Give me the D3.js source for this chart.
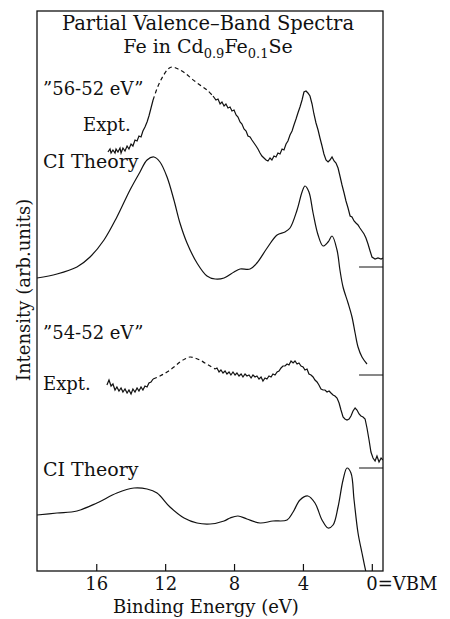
<!DOCTYPE html>
<html lang="en">
<head>
    <meta charset="UTF-8">
    <title>Partial Valence-Band Spectra</title>
    <script src="https://cdn.jsdelivr.net/npm/d3@7"></script>
    <style>
        body { margin: 0; background: #fff; }
        text { font-family: "DejaVu Serif", serif; fill: #111; }
    </style>
</head>
<body>
<script>
    // binding energy (eV) / intensity (arb. units, spectra stacked on one scale)
    const expt5652 = [
        [15.35, 83.8], [15.23, 84.4], [15.17, 83.6], [15.06, 84.2], [14.94, 83.6], [14.88, 84.4],
        [14.77, 83.8], [14.65, 84.6], [14.59, 83.6], [14.48, 84.6], [14.36, 84.0], [14.24, 85.0],
        [14.13, 84.4], [14.01, 85.4], [13.90, 85.0], [13.78, 86.2], [13.66, 86.0], [13.55, 87.0],
        [13.43, 86.8], [13.32, 88.0], [13.20, 88.8], [13.08, 89.8], [12.97, 91.0], [12.85, 92.6],
        [12.73, 94.2], [12.44, 97.0], [12.15, 99.0], [11.86, 100.4], [11.63, 100.8], [11.28, 100.4],
        [10.88, 99.6], [10.47, 98.4], [10.01, 97.2], [9.60, 96.2], [9.25, 95.0],
        [9.08, 94.2], [8.96, 94.4], [8.84, 93.4], [8.73, 93.8], [8.61, 93.0], [8.50, 93.4],
        [8.38, 92.6], [8.26, 92.8], [8.15, 92.0], [8.03, 92.2], [7.91, 91.2], [7.80, 90.8],
        [7.68, 89.8], [7.57, 89.4], [7.45, 88.4], [7.33, 88.0], [7.22, 87.0], [7.10, 86.8],
        [6.99, 86.2], [6.87, 85.6], [6.75, 85.0], [6.64, 84.4], [6.52, 83.6], [6.41, 83.0],
        [6.29, 82.6], [6.17, 82.2], [6.06, 82.0], [5.94, 82.6], [5.83, 82.2], [5.71, 83.0],
        [5.59, 82.8], [5.48, 83.6], [5.36, 83.4], [5.24, 84.4], [5.13, 84.2], [5.01, 85.4],
        [4.90, 86.0], [4.78, 87.2], [4.66, 88.0], [4.55, 89.2], [4.43, 90.4], [4.32, 91.6],
        [4.20, 92.8], [4.08, 94.2], [3.97, 95.8], [3.85, 96.0], [3.74, 95.6], [3.62, 95.0],
        [3.50, 93.4], [3.39, 91.4], [3.27, 89.6], [3.15, 88.2], [3.04, 86.6], [2.92, 85.0],
        [2.81, 83.4], [2.69, 82.2], [2.57, 81.8], [2.46, 82.2], [2.34, 82.8], [2.22, 82.0],
        [2.11, 81.6], [1.99, 80.6], [1.88, 79.0], [1.76, 77.2], [1.64, 75.6], [1.53, 74.0],
        [1.41, 72.6], [1.29, 71.0], [1.18, 70.8], [1.06, 70.0], [0.95, 69.6], [0.83, 69.2],
        [0.72, 68.6], [0.60, 68.0], [0.48, 67.4], [0.37, 66.6], [0.25, 65.4], [0.13, 64.0],
        [0.02, 62.8], [-0.16, 62.4], [-0.33, 62.6], [-0.51, 62.4], [-0.62, 62.6]
    ]
    const dashed5652 = [12.73, 9.25]   // energy range drawn dashed

    const theory5652 = [
        [19.47, 58.6], [18.31, 59.4], [17.15, 60.8], [16.39, 62.8], [15.58, 66.2], [14.83, 70.8],
        [14.07, 76.2], [13.49, 79.8], [13.08, 82.2], [12.68, 82.8], [12.33, 81.8], [11.92, 78.8],
        [11.52, 74.2], [11.17, 69.6], [10.76, 65.6], [10.18, 61.6], [9.60, 59.0], [9.13, 58.4],
        [8.61, 58.6], [8.03, 59.8], [7.68, 60.4], [7.10, 60.4], [6.70, 61.6], [6.11, 64.6],
        [5.53, 67.2], [5.07, 67.8], [4.78, 68.6], [4.37, 72.2], [4.08, 75.8], [3.91, 77.0],
        [3.68, 75.8], [3.44, 71.6], [3.15, 67.2], [2.86, 65.0], [2.57, 65.8], [2.34, 67.0],
        [2.05, 64.2], [1.88, 60.2], [1.70, 56.8], [1.41, 53.6], [1.18, 50.8], [1.00, 47.6],
        [0.83, 44.8], [0.60, 42.8], [0.31, 41.4]
    ]

    const expt5452 = [
        [15.41, 37.2], [15.29, 38.2], [15.17, 37.0], [15.06, 37.4], [14.94, 36.2], [14.83, 36.8],
        [14.71, 36.0], [14.59, 36.6], [14.48, 35.8], [14.36, 36.4], [14.24, 35.6], [14.13, 36.2],
        [14.01, 35.4], [13.90, 36.4], [13.78, 35.8], [13.66, 36.6], [13.55, 36.0], [13.43, 36.8],
        [13.32, 36.2], [13.20, 37.0], [13.08, 36.8], [12.97, 37.6], [12.85, 37.8], [12.73, 38.4],
        [12.33, 39.0], [11.92, 39.8], [11.52, 40.8], [11.17, 41.8], [10.88, 42.4], [10.59, 42.8],
        [10.30, 42.6], [10.01, 42.2], [9.72, 41.6], [9.42, 41.0], [9.13, 40.4],
        [9.02, 40.6], [8.90, 39.8], [8.79, 40.2], [8.67, 39.6], [8.55, 40.0], [8.44, 39.4],
        [8.32, 39.8], [8.21, 39.2], [8.09, 39.8], [7.97, 39.2], [7.86, 39.6], [7.74, 39.0],
        [7.62, 39.4], [7.51, 38.8], [7.39, 39.4], [7.28, 39.0], [7.16, 39.2], [7.04, 38.6],
        [6.93, 39.2], [6.81, 38.8], [6.70, 39.0], [6.58, 38.4], [6.46, 38.8], [6.35, 38.0],
        [6.23, 38.6], [6.12, 38.4], [6.00, 39.0], [5.88, 38.8], [5.77, 39.4], [5.65, 39.2],
        [5.53, 39.8], [5.42, 40.0], [5.30, 40.6], [5.19, 41.0], [5.07, 41.0], [4.95, 41.4],
        [4.84, 41.2], [4.72, 42.0], [4.60, 41.6], [4.49, 42.0], [4.37, 41.4], [4.26, 41.6],
        [4.14, 41.0], [4.02, 40.8], [3.91, 40.2], [3.79, 40.4], [3.68, 39.4], [3.56, 39.2],
        [3.44, 38.8], [3.33, 38.2], [3.21, 37.8], [3.10, 37.2], [2.98, 36.4], [2.86, 36.2],
        [2.75, 36.2], [2.63, 35.8], [2.51, 36.0], [2.40, 35.6], [2.28, 35.2], [2.17, 35.0],
        [2.05, 34.6], [1.93, 33.6], [1.82, 32.2], [1.70, 30.8], [1.59, 30.4], [1.47, 30.2],
        [1.35, 30.4], [1.24, 31.0], [1.12, 32.0], [1.00, 32.6], [0.89, 32.2], [0.77, 31.4],
        [0.66, 31.0], [0.54, 30.8], [0.42, 30.4], [0.31, 28.6], [0.19, 26.2], [0.08, 23.8],
        [-0.04, 22.6], [-0.16, 22.0], [-0.27, 23.0], [-0.39, 21.8], [-0.51, 22.6], [-0.62, 22.2]
    ]
    const dashed5452 = [12.73, 9.13]

    const theory5452 = [
        [19.47, 11.2], [18.31, 11.6], [17.15, 12.0], [15.99, 13.6], [14.83, 15.6], [13.84, 16.6],
        [13.08, 16.4], [12.50, 15.6], [11.75, 12.8], [10.93, 10.6], [10.18, 9.6], [9.42, 9.4],
        [8.61, 10.0], [8.26, 10.6], [7.80, 11.0], [7.28, 10.4], [6.52, 9.6], [5.77, 10.0],
        [4.95, 10.2], [4.60, 11.8], [4.20, 14.2], [3.74, 15.0], [3.33, 13.6], [2.92, 10.2],
        [2.57, 8.6], [2.28, 9.2], [1.99, 12.8], [1.70, 18.2], [1.47, 20.6], [1.24, 19.6],
        [1.06, 14.2], [0.83, 7.6], [0.60, 3.6], [0.37, -0.2], [0.25, -1.8]
    ]

    // zero-intensity marks at the right edge
    const baselines = [60.8, 39.2, 20.6]
    const tickValues = [16, 12, 8, 4, 0]
    const tickLabels = ['16', '12', '8', '4', '0=VBM']

    const [width, height] = [450, 619]
    const frame = {left: 37, right: 383, top: 11, bottom: 571}

    const x = d3.scaleLinear().domain([19.47, -0.62]).range([frame.left, frame.right])
    const y = d3.scaleLinear().domain([0, 112]).range([frame.bottom, frame.top])

    const svg = d3.select('body').append('svg')
        .attr('width', width)
        .attr('height', height)

    svg.append('clipPath').attr('id', 'plot-clip')
        .append('rect')
        .attr('x', frame.left).attr('y', frame.top)
        .attr('width', frame.right - frame.left).attr('height', frame.bottom - frame.top)

    const rough = d3.line().x(d => x(d[0])).y(d => y(d[1]))
    const smooth = d3.line().x(d => x(d[0])).y(d => y(d[1])).curve(d3.curveCatmullRom.alpha(0.5))

    const plot = svg.append('g').attr('clip-path', 'url(#plot-clip)')
        .attr('fill', 'none').attr('stroke', '#111').attr('stroke-width', 1.2)

    // expt curves: solid outside the dashed window, dashed inside
    const drawExpt = (data, win) => {
        const before = data.filter(d => d[0] >= win[0])
        const mid = data.filter(d => d[0] <= win[0] && d[0] >= win[1])
        const after = data.filter(d => d[0] <= win[1])
        plot.append('path').attr('d', rough(before))
        plot.append('path').attr('d', smooth(mid)).attr('stroke-dasharray', '4,3')
        plot.append('path').attr('d', rough(after))
    }
    drawExpt(expt5652, dashed5652)
    drawExpt(expt5452, dashed5452)
    plot.append('path').attr('d', smooth(theory5652))
    plot.append('path').attr('d', smooth(theory5452))

    plot.selectAll('line.base')
        .data(baselines)
        .enter()
        .append('line')
        .attr('class', 'base')
        .attr('x1', x(0.77)).attr('x2', frame.right)
        .attr('y1', d => y(d)).attr('y2', d => y(d))
        .attr('stroke-width', 1)

    // frame
    svg.append('rect')
        .attr('x', frame.left).attr('y', frame.top)
        .attr('width', frame.right - frame.left).attr('height', frame.bottom - frame.top)
        .attr('fill', 'none').attr('stroke', '#111').attr('stroke-width', 1.3)

    // bottom ticks pointing inward, labels below
    svg.selectAll('line.tick')
        .data(tickValues)
        .enter()
        .append('line')
        .attr('class', 'tick')
        .attr('x1', d => x(d)).attr('x2', d => x(d))
        .attr('y1', frame.bottom).attr('y2', frame.bottom - 7)
        .attr('stroke', '#111').attr('stroke-width', 1.2)
    svg.selectAll('text.tick')
        .data(tickValues)
        .enter()
        .append('text')
        .attr('class', 'tick')
        .attr('x', d => d === 0 ? x(d) - 6 : x(d))
        .attr('y', frame.bottom + 19)
        .attr('font-size', 18)
        .attr('text-anchor', d => d === 0 ? 'start' : 'middle')
        .text((d, i) => tickLabels[i])

    const label = (txt, px, py, size) => svg.append('text')
        .attr('x', px).attr('y', py)
        .attr('font-size', size || 18)
        .text(txt)

    svg.append('text')
        .attr('x', 206).attr('y', 613)
        .attr('text-anchor', 'middle')
        .attr('font-size', 18)
        .text('Binding Energy (eV)')

    svg.append('text')
        .attr('transform', 'translate(30, 290) rotate(-90)')
        .attr('text-anchor', 'middle')
        .attr('font-size', 18)
        .text('Intensity (arb.units)')

    svg.append('text')
        .attr('x', 208).attr('y', 30)
        .attr('text-anchor', 'middle')
        .attr('font-size', 19.5)
        .text('Partial Valence–Band Spectra')

    const sub = svg.append('text')
        .attr('x', 208).attr('y', 53)
        .attr('text-anchor', 'middle')
        .attr('font-size', 19)
    sub.append('tspan').text('Fe in Cd')
    sub.append('tspan').attr('font-size', 13).attr('dy', 5).text('0.9')
    sub.append('tspan').attr('dy', -5).text('Fe')
    sub.append('tspan').attr('font-size', 13).attr('dy', 5).text('0.1')
    sub.append('tspan').attr('dy', -5).text('Se')

    label('”56-52 eV”', 43, 95)
    label('Expt.', 83, 131)
    label('CI Theory', 43, 168, 19)
    label('”54-52 eV”', 43, 339)
    label('Expt.', 43, 390)
    label('CI Theory', 43, 476, 19)
</script>
</body>
</html>
